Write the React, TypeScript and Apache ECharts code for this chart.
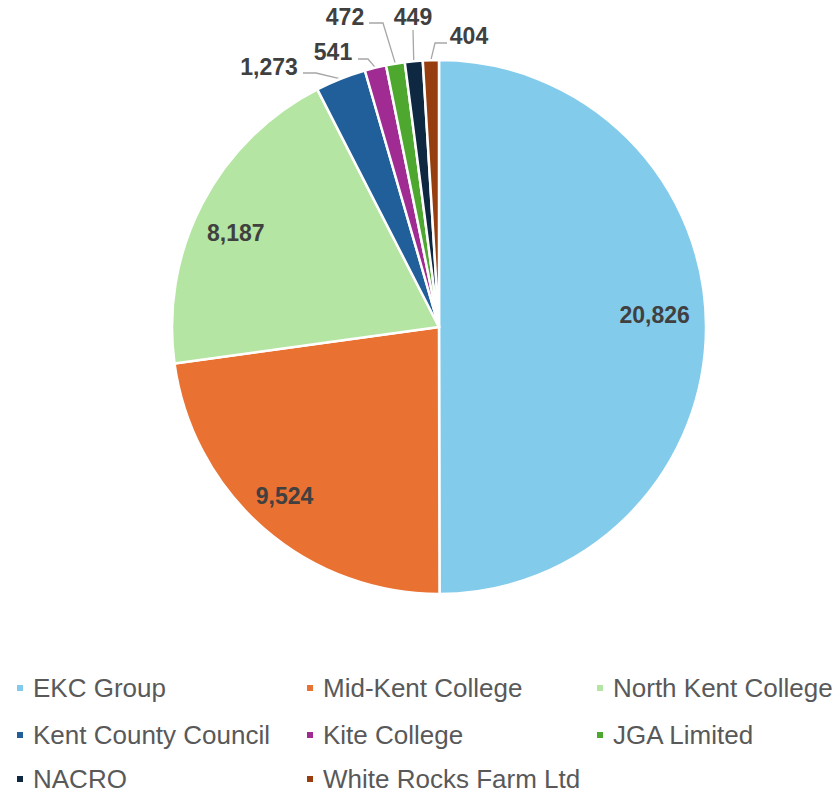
import React, { useEffect, useRef } from "react";
import * as echarts from "echarts";

const categories = [
  "EKC Group",
  "Mid-Kent College",
  "North Kent College",
  "Kent County Council",
  "Kite College",
  "JGA Limited",
  "NACRO",
  "White Rocks Farm Ltd",
];
const values = [20826, 9524, 8187, 1273, 541, 472, 449, 404];
const colors = ["#83CBEB", "#E97132", "#B4E5A2", "#215F9A", "#A02B93", "#4EA72E", "#0E2841", "#963E10"];

const fmt = (v: number) => v.toLocaleString("en-US");

export default function App() {
  const ref = useRef<HTMLDivElement>(null);
  useEffect(() => {
    if (!ref.current) return;
    const chart = echarts.init(ref.current, null, { renderer: "svg" });
    const cx = 439, cy = 327, r = 267;
    const font = "'Liberation Sans', Arial, sans-serif";
    const insideIdx = [0, 1, 2];
    // small nudges for the inside labels
    const insideShift: Record<number, number[]> = { 0: [-9, -12], 1: [-7, 0], 2: [-4, 10] };
    // outside label placement (text centre) and leader bends for small slices
    const outside: Record<number, { x: number; y: number; bends: number[][] }> = {
      3: { x: 269, y: 67, bends: [[316, 73], [303, 73]] },
      4: { x: 333, y: 52, bends: [[368, 59], [358, 59]] },
      5: { x: 345, y: 17, bends: [[383, 23], [369, 23]] },
      6: { x: 413, y: 17, bends: [[413, 30]] },
      7: { x: 469, y: 36, bends: [[435, 43], [447, 43]] },
    };
    const total = values.reduce((a, b) => a + b, 0);
    const edgePoint = (i: number) => {
      let before = 0;
      for (let k = 0; k < i; k++) before += values[k];
      const mid = ((before + values[i] / 2) / total) * Math.PI * 2;
      return [cx + r * Math.sin(mid), cy - r * Math.cos(mid)];
    };
    const labelText = {
      fontFamily: font,
      fontSize: 23,
      fontWeight: "bold" as const,
      color: "#404040",
    };
    const mainData = categories.map((name, i) => ({
      name,
      value: values[i],
      itemStyle: { color: colors[i] },
      label: { show: !insideIdx.includes(i) },
      labelLine: { show: !insideIdx.includes(i) },
    }));
    const overlayData = categories.map((name, i) => ({
      name,
      value: values[i],
      label: { show: insideIdx.includes(i) },
    }));
    const colX = [15, 305, 595];
    const rowY = [675, 722, 766];
    const legends = categories.map((name, i) => ({
      data: [name],
      left: colX[i % 3],
      top: rowY[Math.floor(i / 3)],
      icon: "rect",
      itemWidth: 8,
      itemHeight: 8,
      padding: 0,
      selectedMode: false,
      textStyle: { fontFamily: font, fontSize: 26, lineHeight: 24, color: "#595959", padding: [0, 0, 0, 4] },
    }));
    chart.setOption({
      animation: false,
      backgroundColor: "#ffffff",
      color: colors,
      legend: legends,
      series: [
        {
          type: "pie",
          center: [cx, cy],
          radius: r,
          startAngle: 90,
          clockwise: true,
          avoidLabelOverlap: false,
          itemStyle: { borderColor: "#ffffff", borderWidth: 2.5 },
          label: {
            ...labelText,
            position: "outside",
            formatter: (p: any) => fmt(p.value),
          },
          labelLine: { show: true, length: 10, length2: 10, lineStyle: { color: "#A6A6A6", width: 1.3 } },
          labelLayout: (p: any) => {
            const o = outside[p.dataIndex];
            if (!o) return {};
            const start = p.labelLinePoints ? p.labelLinePoints[0] : edgePoint(p.dataIndex);
            return {
              x: o.x,
              y: o.y,
              align: "center",
              verticalAlign: "middle",
              labelLinePoints: [start, ...o.bends],
            };
          },
          emphasis: { disabled: true },
          data: mainData,
        },
        {
          type: "pie",
          center: [cx, cy],
          radius: [r * 0.66, r],
          startAngle: 90,
          clockwise: true,
          silent: true,
          itemStyle: { color: "rgba(0,0,0,0)" },
          label: {
            ...labelText,
            position: "inside",
            formatter: (p: any) => fmt(p.value),
          },
          labelLayout: (p: any) => {
            const s = insideShift[p.dataIndex];
            return s ? { dx: s[0], dy: s[1] } : {};
          },
          labelLine: { show: false },
          emphasis: { disabled: true },
          data: overlayData,
        },
      ],
    });
    return () => chart.dispose();
  }, []);
  return (
    <div
      ref={ref}
      style={{ position: "fixed", left: 0, top: 0, width: 839, height: 793, background: "#fff" }}
    />
  );
}
